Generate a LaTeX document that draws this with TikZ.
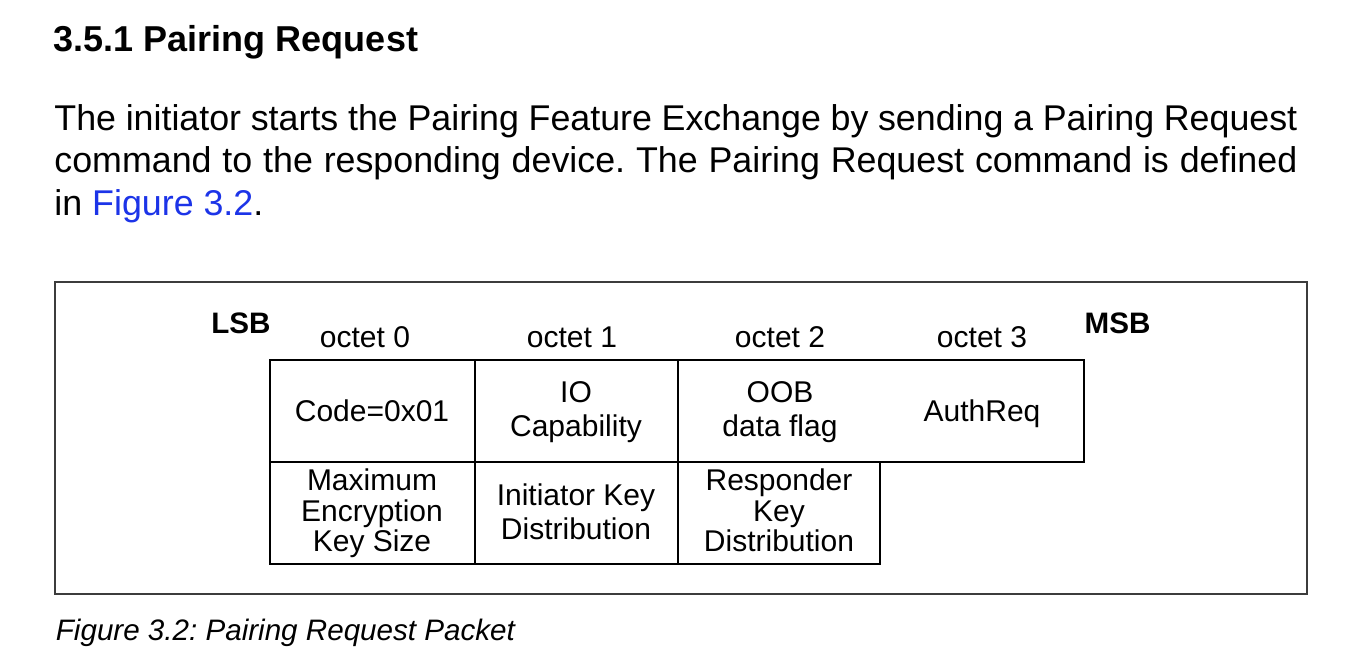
\documentclass[tikz,border=0pt]{standalone}
\usepackage{fontspec}
\setmainfont{Liberation Sans}
\frenchspacing
\definecolor{linkblue}{RGB}{28,52,232}
\definecolor{framegray}{RGB}{60,60,60}
\newcommand{\fullline}[1]{\makebox[621.5pt][s]{#1}}
\begin{document}
\begin{tikzpicture}[x=0.5pt,y=-0.5pt,
  line/.style={inner sep=0pt, anchor=base},
  leftline/.style={inner sep=0pt, anchor=base west},
  headfont/.style={font=\fontsize{18}{20}\selectfont\bfseries},
  bodyfont/.style={font=\fontsize{17.9}{21}\selectfont},
  cellfont/.style={font=\fontsize{15}{16}\selectfont},
  edgefont/.style={font=\fontsize{14.8}{16}\selectfont\bfseries},
  capfont/.style={font=\fontsize{14.8}{16}\selectfont\itshape},
  frame/.style={draw=framegray, line width=0.8pt},
  grid/.style={draw=black, line width=0.8pt}]
\useasboundingbox (0,0) rectangle (1364,660);
\fill[white] (0,0) rectangle (1364,660);

% heading and paragraph
\node[leftline, headfont] (title) at (53.5,51) {3.5.1 Pairing Request};
\node[leftline, bodyfont] (para1) at (54,130) {\fullline{The initiator starts the Pairing Feature Exchange by sending a Pairing Request}};
\node[leftline, bodyfont] (para2) at (54,172.5) {\fullline{command to the responding device. The Pairing Request command is defined}};
\node[leftline, bodyfont] (para3) at (54,215) {in \textcolor{linkblue}{Figure 3.2}.};

% figure frame
\draw[frame] (55,282) rectangle (1307,594);

% packet table
\draw[grid] (270,360) rectangle (1084,462);
\draw[grid] (270,462) rectangle (880,564);
\draw[grid] (475,360) -- (475,564);
\draw[grid] (678,360) -- (678,564);

% bit order and octet labels
\node[line, edgefont] (lsb) at (241,333) {LSB};
\node[line, edgefont] (msb) at (1117.5,333) {MSB};
\node[line, cellfont] (oct0) at (365,347.5) {octet 0};
\node[line, cellfont] (oct1) at (572,347.5) {octet 1};
\node[line, cellfont] (oct2) at (780,347.5) {octet 2};
\node[line, cellfont] (oct3) at (982,347.5) {octet 3};

% first row of fields
\node[line, cellfont] (code) at (372,421.5) {Code=0x01};
\node[line, cellfont] (ioa) at (576,402.5) {IO};
\node[line, cellfont] (iob) at (576,436) {Capability};
\node[line, cellfont] (ooba) at (780,402.5) {OOB};
\node[line, cellfont] (oobb) at (780,436) {data flag};
\node[line, cellfont] (auth) at (982,421.5) {AuthReq};

% second row of fields
\node[line, cellfont] (maxa) at (372,490.5) {Maximum};
\node[line, cellfont] (maxb) at (372,521) {Encryption};
\node[line, cellfont] (maxc) at (372,551.5) {Key Size};
\node[line, cellfont] (inia) at (576,505.5) {Initiator Key};
\node[line, cellfont] (inib) at (576,539) {Distribution};
\node[line, cellfont] (resa) at (779,490.5) {Responder};
\node[line, cellfont] (resb) at (779,521) {Key};
\node[line, cellfont] (resc) at (779,551.5) {Distribution};

% caption
\node[leftline, capfont] (caption) at (55.5,640) {Figure 3.2: Pairing Request Packet};
\end{tikzpicture}
\end{document}
